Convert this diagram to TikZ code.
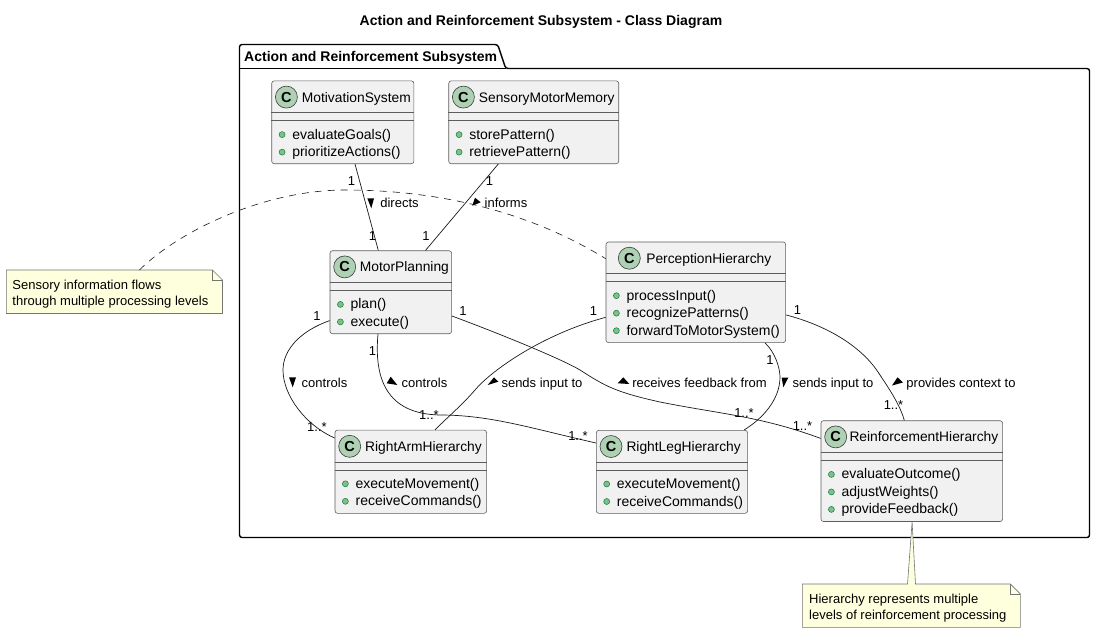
\documentclass[tikz,border=0pt]{standalone}
\usepackage{fontspec}
\setmainfont{Liberation Sans}
\usetikzlibrary{calc}
\definecolor{classfill}{HTML}{F1F1F1}
\definecolor{spotfill}{HTML}{ADD1B2}
\definecolor{notefill}{HTML}{FEFFDD}
\definecolor{dotfill}{HTML}{84BE84}
\definecolor{dotline}{HTML}{038048}
\definecolor{edgeline}{HTML}{181818}
\tikzset{
  classbox/.style={draw=edgeline!70,fill=classfill,line width=0.6pt,rounded corners=2.5pt,inner sep=0,anchor=north west},
  spot/.style={circle,draw=edgeline!85,fill=spotfill,line width=0.6pt,minimum size=22pt,inner sep=0,font=\fontsize{14.5}{14.5}\selectfont\bfseries},
  classname/.style={anchor=base west,inner sep=0,font=\fontsize{13.8}{14}\selectfont},
  member/.style={anchor=base west,inner sep=0,font=\fontsize{14}{14}\selectfont},
  edgelabel/.style={inner sep=0,font=\fontsize{13}{13}\selectfont,anchor=base},
  rel/.style={edgeline,line width=0.7pt},
  tri/.style={fill=black,draw=none},
  notetext/.style={anchor=base west,inner sep=0,font=\fontsize{13}{13}\selectfont},
}
% id, x, y, width, height, spot dx, title dx, title, members
\newcommand{\classbx}[9]{%
  \node[classbox,minimum width=#4pt,minimum height=#5pt] (#1) at (#2,#3) {};
  \node[spot] (#1s) at ([shift={(#6,16.5)}]#1.north west) {C};
  \node[classname] (#1t) at ([shift={(#7,21.5)}]#1.north west) {#8};
  \draw[edgeline!70,line width=0.6pt] ([yshift=-32pt]#1.north west) -- ([yshift=-32pt]#1.north east);
  \draw[edgeline!70,line width=0.6pt] ([yshift=-40pt]#1.north west) -- ([yshift=-40pt]#1.north east);
  \foreach \m [count=\i] in {#9} {
    \fill[dotfill,draw=dotline,line width=0.5pt] ([shift={(10.7,{54+(\i-1)*17.5})}]#1.north west) circle (3);
    \node[member] (#1m\i) at ([shift={(20.7,{58.5+(\i-1)*17.5})}]#1.north west) {\m};
  }
}
\begin{document}
\begin{tikzpicture}[x=1pt,y=-1pt]
\useasboundingbox (0,0) rectangle (1095,633);
\node[inner sep=0,anchor=base,font=\fontsize{14}{14}\selectfont\bfseries] (title) at (541,25) {Action and Reinforcement Subsystem - Class Diagram};
% package
\draw[black,line width=1.4pt,rounded corners=2.5pt] (239.5,68.5) -- (239.5,44.5) -- (497.7,44.5) -- (505.7,68.5) -- (1089.5,68.5) -- (1089.5,537.5) -- (239.5,537.5) -- cycle;
\draw[black,line width=1.4pt] (239.5,68.5) -- (505.7,68.5);
\node[inner sep=0,anchor=base west,font=\fontsize{14}{14}\selectfont\bfseries] (pkg) at (244,61) {Action and Reinforcement Subsystem};
% classes
\classbx{ms}{271.4}{80.6}{142.2}{82.8}{15}{30.3}{MotivationSystem}{evaluateGoals(),prioritizeActions()}
\classbx{smm}{448.4}{80.6}{170}{82.8}{15}{30.3}{SensoryMotorMemory}{storePattern(),retrievePattern()}
\classbx{mp}{329.7}{250.4}{121.6}{83}{15}{30}{MotorPlanning}{plan(),execute()}
\classbx{ph}{605.7}{241.7}{179.6}{100.6}{23.6}{40.4}{PerceptionHierarchy}{processInput(),recognizePatterns(),forwardToMotorSystem()}
\classbx{ra}{334.7}{429.8}{151.6}{83.2}{15}{30.3}{RightArmHierarchy}{executeMovement(),receiveCommands()}
\classbx{rl}{596}{430}{151.3}{83}{15}{30.3}{RightLegHierarchy}{executeMovement(),receiveCommands()}
\classbx{rf}{820.7}{420.4}{181.6}{100.8}{15}{28.6}{ReinforcementHierarchy}{evaluateOutcome(),adjustWeights(),provideFeedback()}
% notes
\coordinate (nl) at (6.4,270);
\draw[edgeline!60,fill=notefill,line width=0.6pt] (6.4,270) -- (212.5,270) -- (222.5,280) -- (222.5,313.5) -- (6.4,313.5) -- cycle;
\draw[edgeline!60,line width=0.6pt] (212.5,270) -- (212.5,280) -- (222.5,280);
\node[notetext] (n1a) at (12.3,289) {Sensory information flows};
\node[notetext] (n1b) at (12.3,305) {through multiple processing levels};
\draw[edgeline!60,fill=notefill,line width=0.6pt] (802.4,584) -- (907.5,584) -- ([xshift=-90.8pt]rf.south east) -- (915.5,584) -- (1010.4,584) -- (1020.4,594) -- (1020.4,627.3) -- (802.4,627.3) -- cycle;
\draw[edgeline!60,line width=0.6pt] (1010.4,584) -- (1010.4,594) -- (1020.4,594);
\node[notetext] (n2a) at (809,603) {Hierarchy represents multiple};
\node[notetext] (n2b) at (809,619) {levels of reinforcement processing};
% dashed note link
\draw[rel,line width=0.6pt,dash pattern=on 7pt off 6pt] ([shift={(133,0)}]nl) .. controls (180,230) and (265,190) .. (345,190) .. controls (440,190) and (530,212) .. ([shift={(0,17)}]ph.north west);
% relations
\draw[rel] ([xshift=83.6pt]ms.south west) -- ([xshift=48.6pt]mp.north west);
\draw[rel] ([xshift=49.9pt]smm.south west) -- ([xshift=95.8pt]mp.north west);
\draw[rel] ([yshift=13.4pt]mp.south west) .. controls (300,331) and (283,350) .. (283,370) .. controls (283,395) and (305,425) .. ([yshift=-8.2pt]ra.north west);
\draw[rel] ([xshift=48.3pt]mp.south west) .. controls (374,378) and (386,414) .. (440,415) .. controls (490,415) and (530,428) .. ([yshift=-13pt]rl.north west);
\draw[rel] ([yshift=18pt]mp.south east) .. controls (490,330) and (560,358) .. (580,370) .. controls (605,386) and (615,392) .. (660,402) .. controls (720,414) and (760,416) .. ([yshift=-18pt]rf.north west);
\draw[rel] ([yshift=25.6pt]ph.south west) .. controls (540,335) and (490,372) .. (475,390) .. controls (463,404) and (450,415) .. ([xshift=100.3pt]ra.north west);
\draw[rel] ([xshift=159.3pt]ph.south west) .. controls (775,352) and (780,368) .. (780,377) .. controls (780,400) and (762,419) .. ([xshift=148pt]rl.north west);
\draw[rel] ([yshift=28pt]ph.south east) .. controls (825,325) and (860,345) .. (878,372) .. controls (890,390) and (900,405) .. ([xshift=83.6pt]rf.north west);
% direction triangles
\fill[tri] (367.3,198.3) -- (374,198.3) -- (371.3,208.3) -- cycle;
\fill[tri] (472.3,205.7) -- (475,197.7) -- (480.7,202.3) -- cycle;
\fill[tri] (289,377.3) -- (296,377.3) -- (292.7,387.3) -- cycle;
\fill[tri] (386.7,383.3) -- (390.7,376.7) -- (397.3,385) -- cycle;
\fill[tri] (487.7,385) -- (494,377.3) -- (498.3,381.7) -- cycle;
\fill[tri] (617.7,383.3) -- (623.3,377.3) -- (629.3,384) -- cycle;
\fill[tri] (781.7,377.7) -- (788.3,377.7) -- (783.3,387.3) -- cycle;
\fill[tri] (892,385.5) -- (897.5,377.3) -- (903,382.5) -- cycle;
% edge texts
\node[edgelabel] (l1) at (399.5,207.5) {directs};
\node[edgelabel] (l2) at (506,207.5) {informs};
\node[edgelabel] (l3) at (324.5,387) {controls};
\node[edgelabel] (l4) at (424.5,387) {controls};
\node[edgelabel] (l5) at (542,387) {sends input to};
\node[edgelabel] (l6) at (699.5,387) {receives feedback from};
\node[edgelabel] (l7) at (833,387) {sends input to};
\node[edgelabel] (l8) at (961,387) {provides context to};
% multiplicities
\node[edgelabel] (m1) at (351.5,185) {1};
\node[edgelabel] (m2) at (372.5,240) {1};
\node[edgelabel] (m3) at (489.5,185.5) {1};
\node[edgelabel] (m4) at (426,240) {1};
\node[edgelabel] (m5) at (317,320.5) {1};
\node[edgelabel] (m6) at (372.5,355) {1};
\node[edgelabel] (m7) at (463,315.5) {1};
\node[edgelabel] (m8) at (593.5,315.5) {1};
\node[edgelabel] (m9) at (770,364.5) {1};
\node[edgelabel] (m10) at (797.5,314) {1};
\node[edgelabel] (s1) at (317,431.5) {1..*};
\node[edgelabel] (s2) at (429,419) {1..*};
\node[edgelabel] (s3) at (578,440.5) {1..*};
\node[edgelabel] (s4) at (744,417) {1..*};
\node[edgelabel] (s5) at (802.5,430.5) {1..*};
\node[edgelabel] (s6) at (893.5,409.5) {1..*};
\end{tikzpicture}
\end{document}
